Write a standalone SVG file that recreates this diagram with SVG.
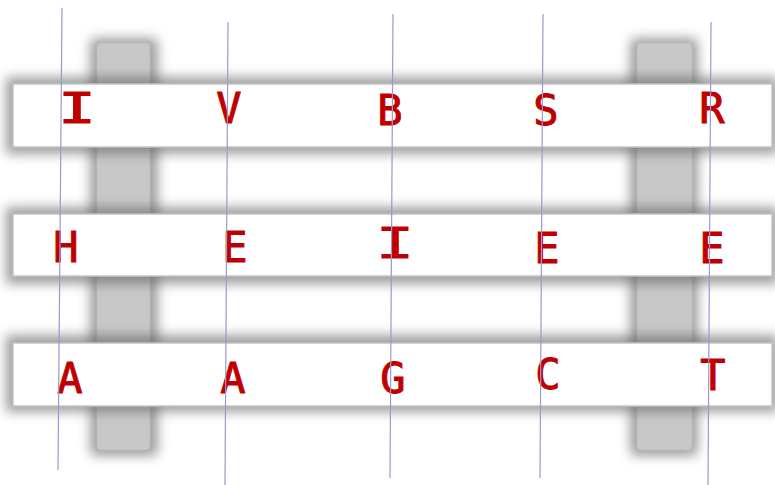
<svg xmlns="http://www.w3.org/2000/svg" width="775" height="485" viewBox="0 0 775 485">
<defs>
<filter id="sh" x="-20%" y="-20%" width="140%" height="140%"><feGaussianBlur stdDeviation="6"/></filter>
<style>
.shadow{fill:#5e5e5e;opacity:0.6;filter:url(#sh)}
.post{fill:#c8c8c8;stroke:#bdbdbd;stroke-width:1}
.plank{fill:#ffffff;stroke:#c4c4c4;stroke-width:1.5}
.guide{stroke:#9a9ad0;stroke-width:1.2;fill:none}
.l{font-family:"DejaVu Sans Mono","Liberation Mono",monospace;font-size:42px;fill:#c00000;stroke:#c00000;stroke-width:1;text-anchor:middle}
</style>
</defs>
<rect width="775" height="485" fill="#ffffff"/>
<g id="posts">
<rect class="shadow" x="90" y="38" width="68" height="418" rx="6"/>
<rect class="shadow" x="630" y="38" width="68" height="418" rx="6"/>
<rect class="post" x="97" y="43" width="53" height="407" rx="4"/>
<rect class="post" x="637" y="43" width="55" height="407" rx="4"/>
</g>
<g id="planks">
<rect class="shadow" x="6" y="77" width="772" height="77"/>
<rect class="shadow" x="6" y="207" width="772" height="77"/>
<rect class="shadow" x="6" y="335" width="772" height="77"/>
<rect class="plank" x="13" y="84" width="759" height="63"/>
<rect class="plank" x="13" y="214" width="759" height="62"/>
<rect class="plank" x="13" y="343" width="759" height="63"/>
</g>
<g id="letters">
<text class="l" x="77" y="123" transform="translate(77 0) scale(1.5 1) translate(-77 0)">I</text>
<text class="l" x="229" y="123">V</text>
<text class="l" x="390" y="125">B</text>
<text class="l" x="546" y="125">S</text>
<text class="l" x="712" y="123">R</text>
<text class="l" x="66" y="262">H</text>
<text class="l" x="235" y="262">E</text>
<text class="l" x="395" y="258" transform="translate(395 0) scale(1.5 1) translate(-395 0)">I</text>
<text class="l" x="547" y="263">E</text>
<text class="l" x="712" y="263">E</text>
<text class="l" x="70" y="393">A</text>
<text class="l" x="233" y="393">A</text>
<text class="l" x="393" y="393">G</text>
<text class="l" x="548" y="389">C</text>
<text class="l" x="713" y="390">T</text>
</g>
<g id="guides">
<line class="guide" x1="62" y1="8" x2="58" y2="470"/>
<line class="guide" x1="228" y1="22" x2="225" y2="485"/>
<line class="guide" x1="393" y1="14" x2="390" y2="478"/>
<line class="guide" x1="543" y1="14" x2="540" y2="478"/>
<line class="guide" x1="711" y1="22" x2="708" y2="485"/>
</g>
</svg>
